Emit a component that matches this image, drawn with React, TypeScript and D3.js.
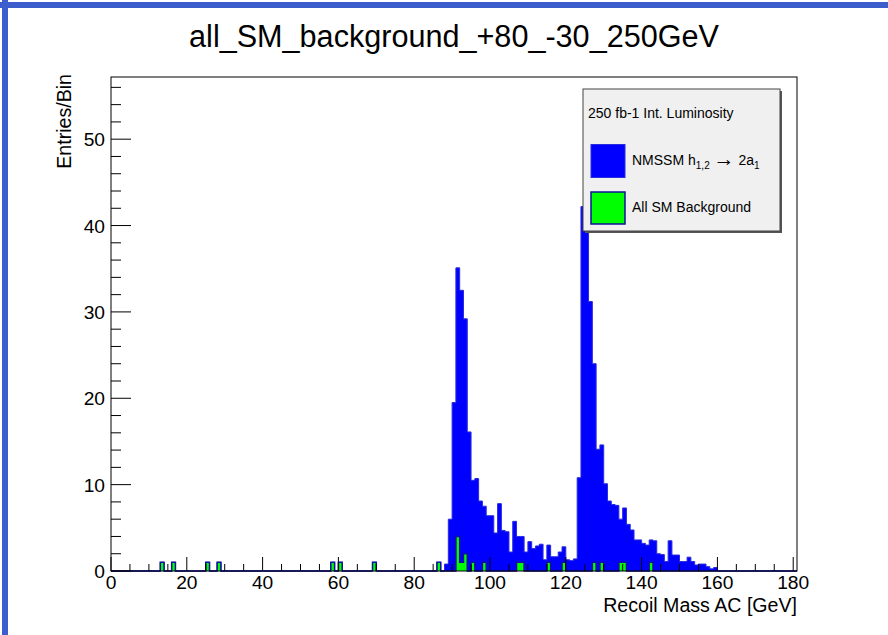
import React from 'react';
import * as d3 from 'd3';

// ---- data (entries per 1 GeV bin) ----
const xTickValues = [0, 20, 40, 60, 80, 100, 120, 140, 160, 180];
const yTickValues = [0, 10, 20, 30, 40, 50];
const chartTitle = 'all_SM_background_+80_-30_250GeV';
const xAxisTitle = 'Recoil Mass AC [GeV]';
const yAxisTitle = 'Entries/Bin';
const legendHeader = '250 fb-1 Int. Luminosity';

// background (All SM) : bin lower edges and counts
const bkgBins = [13, 16, 25, 28, 58, 60, 69, 86, 91, 92, 93, 95, 98, 107, 108, 115, 119, 127, 129, 134, 135, 142];
const bkgCounts = [1, 1, 1, 1, 1, 1, 1, 1, 4, 1, 2, 1, 1, 1, 1, 1, 1, 1, 1, 1, 1, 1];

// signal (NMSSM h -> 2a) : bins 88 .. 159
const sigFirstBin = 88;
const sigCounts = [
  0.8, 6.0, 19.5, 31.1, 31.5, 27.2, 16.1, 9.5, 10.7, 8.1,
  6.5, 6.4, 6.4, 4.4, 7.8, 4.7, 4.55, 2.2, 5.75, 3.0,
  3.0, 2.2, 3.4, 2.6, 2.9, 3.1, 1.3, 2.0, 1.65, 1.65,
  2.2, 1.8, 1.3, 1.2, 1.4, 10.8, 42.2, 42.0, 31.2, 23.0,
  14.1, 13.6, 10.1, 8.1, 7.7, 7.6, 5.0, 6.3, 5.4, 4.75,
  3.6, 3.6, 3.2, 3.0, 2.6, 3.5, 2.0, 1.9, 1.1, 3.5,
  1.85, 1.85, 1.1, 1.1, 1.6, 1.1, 0.7, 0.8, 0.8, 0.5,
  0.25, 0.4,
];

const X_MAX = 181;
const Y_MAX = 57.2;
const FONT = '"Liberation Sans", Arial, Helvetica, sans-serif';

export default function App() {
  const W = 888, H = 635;
  const L = 111, R = 797, T = 77, B = 571;
  const x = d3.scaleLinear().domain([0, X_MAX]).range([L, R]);
  const y = d3.scaleLinear().domain([0, Y_MAX]).range([B, T]);

  const nBins = X_MAX;
  const bkg = new Array(nBins).fill(0);
  bkgBins.forEach((b, i) => { bkg[b] += bkgCounts[i]; });
  const total = bkg.slice();
  sigCounts.forEach((v, i) => { total[sigFirstBin + i] += v; });

  const stepPoints = (vals: number[]): [number, number][] => {
    const pts: [number, number][] = [[x(0), y(0)]];
    vals.forEach((v, i) => {
      pts.push([x(i), y(v)]);
      pts.push([x(i + 1), y(v)]);
    });
    pts.push([x(vals.length), y(0)]);
    return pts;
  };
  const line = d3.line<[number, number]>();
  const totalPath = line(stepPoints(total)) || '';
  const bkgPath = line(stepPoints(bkg)) || '';

  const xMinor = d3.range(0, 181, 5);
  const yMinor = d3.range(0, Y_MAX, 2);

  return (
    <svg width={W} height={H} style={{ position: 'absolute', left: 0, top: 0, background: '#fff' }}
      fontFamily={FONT}>
      <rect x={0} y={0} width={W} height={H} fill="#fff" />
      {/* window border */}
      <rect x={0} y={2} width={W} height={6} fill="#3b5ecc" />
      <rect x={2} y={0} width={6} height={H} fill="#3b5ecc" />

      {/* title */}
      <text x={454} y={47} fontSize={30.6} textAnchor="middle" fill="#000">{chartTitle}</text>

      {/* histograms */}
      <path d={totalPath + 'Z'} fill="#0000ff" stroke="none" />
      <path d={totalPath} fill="none" stroke="#2a2ae0" strokeWidth={1} />
      <path d={bkgPath + 'Z'} fill="#00ff00" stroke="none" />
      <path d={bkgPath} fill="none" stroke="#10109a" strokeWidth={1.5} />

      {/* frame */}
      <rect x={L} y={T} width={R - L} height={B - T} fill="none" stroke="#000" strokeWidth={1} />

      {/* x ticks */}
      {xMinor.map((v) => {
        const major = v % 20 === 0;
        return <line key={'xt' + v} x1={x(v)} x2={x(v)} y1={B} y2={B - (major ? 14 : 7)} stroke="#000" strokeWidth={1} />;
      })}
      {xTickValues.map((v) => (
        <text key={'xl' + v} x={x(v)} y={589} fontSize={19.2} textAnchor="middle" fill="#000">{v}</text>
      ))}
      <text x={R} y={612} fontSize={19.6} textAnchor="end" fill="#000">{xAxisTitle}</text>

      {/* y ticks */}
      {yMinor.map((v) => {
        const major = Math.abs(v % 10) < 1e-9;
        return <line key={'yt' + v} x1={L} x2={L + (major ? 20 : 10)} y1={y(v)} y2={y(v)} stroke="#000" strokeWidth={1} />;
      })}
      {yTickValues.map((v) => (
        <text key={'yl' + v} x={105} y={y(v) + 7} fontSize={19.2} textAnchor="end" fill="#000">{v}</text>
      ))}
      <text transform={`translate(71,74) rotate(-90)`} fontSize={19.6} textAnchor="end" fill="#000">{yAxisTitle}</text>

      {/* legend */}
      <rect x={585} y={91} width={197} height={142} fill="#555" />
      <rect x={583} y={89} width={197} height={142} fill="#f0f0f0" stroke="#444" strokeWidth={1} />
      <text x={588} y={118} fontSize={14} fill="#000">{legendHeader}</text>
      <rect x={591} y={144.5} width={34} height={33} fill="#0000ff" stroke="#2a2ae0" strokeWidth={1} />
      <text x={632} y={165} fontSize={14} fill="#000">
        NMSSM h
        <tspan fontSize={10} dy={4}>1,2</tspan>
        <tspan dy={-4}>{' '}</tspan>
        <tspan dy={1} fontSize={21}>→</tspan>
        <tspan dy={-1}>{' 2a'}</tspan>
        <tspan fontSize={10} dy={4}>1</tspan>
      </text>
      <rect x={591} y={192} width={34} height={32} fill="#00ff00" stroke="#10109a" strokeWidth={1.5} />
      <text x={632} y={212} fontSize={14} fill="#000">All SM Background</text>
    </svg>
  );
}
